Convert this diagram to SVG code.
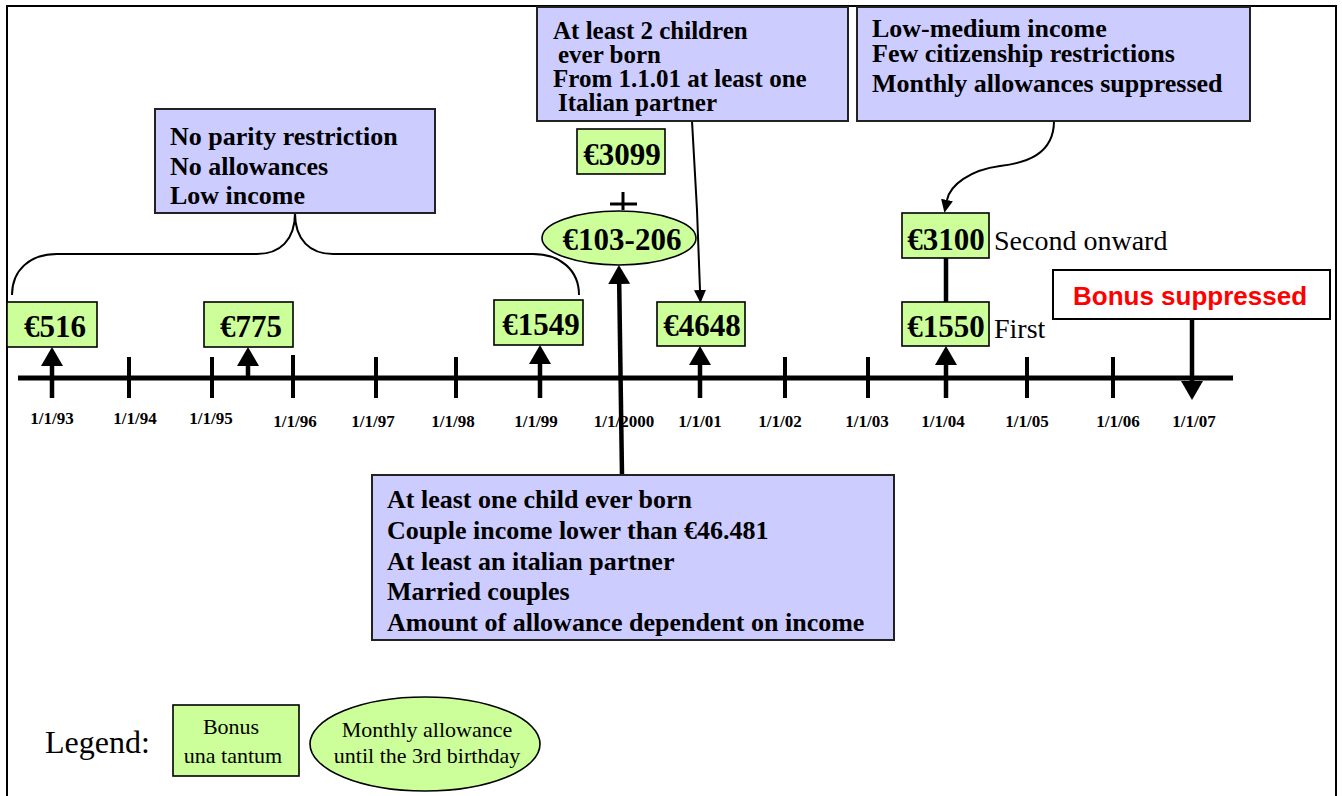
<svg xmlns="http://www.w3.org/2000/svg" width="1342" height="796" viewBox="0 0 1342 796">
<style>
.frame{fill:none;stroke:#000;stroke-width:2}
.blue{fill:#CCCCFF;stroke:#222;stroke-width:2}
.green{fill:#CCFF99;stroke:#000;stroke-width:1.6}
.bt{font-family:"Liberation Serif","Times New Roman",serif;font-weight:bold;font-size:26px;fill:#000}
.bt2{font-family:"Liberation Serif","Times New Roman",serif;font-weight:bold;font-size:25px;fill:#000}
.eu{font-family:"Liberation Serif","Times New Roman",serif;font-weight:bold;font-size:31px;fill:#000;text-anchor:middle}
.dt{font-family:"Liberation Serif","Times New Roman",serif;font-weight:bold;font-size:17px;fill:#000;text-anchor:middle}
.rt{font-family:"Liberation Serif","Times New Roman",serif;font-size:28px;fill:#000}
.lg{font-family:"Liberation Serif","Times New Roman",serif;font-size:22px;fill:#000;text-anchor:middle}
.thick{stroke:#000;stroke-width:4.5;fill:none}
.thin{stroke:#000;stroke-width:2;fill:none}
.tick{stroke:#000;stroke-width:4}
</style>
<defs>
<marker id="ah" markerUnits="userSpaceOnUse" markerWidth="20" markerHeight="22" refX="0" refY="11" orient="auto" viewBox="0 0 20 22"><path d="M0,0 L19,11 L0,22 z" fill="#000"/></marker>
<marker id="ahs" markerUnits="userSpaceOnUse" markerWidth="13" markerHeight="12" refX="0" refY="6" orient="auto" viewBox="0 0 13 12"><path d="M0,0 L13,6 L0,12 z" fill="#000"/></marker>
</defs>
<rect width="1342" height="796" fill="#fff"/>
<path class="frame" d="M7,796 L7,6 L1336,6 L1336,796"/>

<g id="timeline">
<line x1="18" y1="378" x2="1233" y2="378" stroke="#000" stroke-width="5"/>
<line class="tick" x1="129" y1="357" x2="129" y2="398"/>
<line class="tick" x1="212" y1="357" x2="212" y2="398"/>
<line class="tick" x1="293" y1="355" x2="293" y2="398"/>
<line class="tick" x1="376" y1="357" x2="376" y2="398"/>
<line class="tick" x1="456" y1="357" x2="456" y2="398"/>
<line class="tick" x1="785" y1="357" x2="785" y2="398"/>
<line class="tick" x1="868" y1="357" x2="868" y2="398"/>
<line class="tick" x1="1027" y1="357" x2="1027" y2="398"/>
<line class="tick" x1="1113" y1="357" x2="1113" y2="398"/>
<text class="dt" x="52" y="424">1/1/93</text>
<text class="dt" x="135" y="424">1/1/94</text>
<text class="dt" x="211" y="424">1/1/95</text>
<text class="dt" x="295" y="427">1/1/96</text>
<text class="dt" x="373" y="427">1/1/97</text>
<text class="dt" x="453" y="427">1/1/98</text>
<text class="dt" x="536" y="427">1/1/99</text>
<text class="dt" x="624" y="427">1/1/2000</text>
<text class="dt" x="700" y="427">1/1/01</text>
<text class="dt" x="780" y="427">1/1/02</text>
<text class="dt" x="867" y="427">1/1/03</text>
<text class="dt" x="943" y="427">1/1/04</text>
<text class="dt" x="1027" y="427">1/1/05</text>
<text class="dt" x="1118" y="427">1/1/06</text>
<text class="dt" x="1194" y="427">1/1/07</text>
</g>

<g id="connectors">
<path class="thin" stroke-width="1.6" d="M12,295 C12,270 30,254 57,254 L257,254 C280,254 295,240 295,213 C295,240 310,254 333,254 L533,254 C560,254 579,270 579,295"/>
<line class="thick" x1="52" y1="398" x2="52" y2="366" marker-end="url(#ah)"/>
<line class="thick" x1="248" y1="378" x2="248" y2="366" marker-end="url(#ah)"/>
<line class="thick" x1="540" y1="398" x2="540" y2="364" marker-end="url(#ah)"/>
<line class="thick" x1="622" y1="475" x2="619.2" y2="284" marker-end="url(#ah)"/>
<line class="thick" x1="700" y1="398" x2="700" y2="365" marker-end="url(#ah)"/>
<line class="thick" x1="946" y1="398" x2="946" y2="365" marker-end="url(#ah)"/>
<line class="thick" x1="1192" y1="319" x2="1192" y2="381" marker-end="url(#ah)"/>
<line class="thick" x1="946" y1="258" x2="946" y2="302"/>
<polyline class="thin" points="692,121 697,210 700,290" marker-end="url(#ahs)"/>
<path class="thin" stroke-width="2.5" d="M1054,121 C1054,155 1025,163 1000,166 C970,170 950,185 947,200" marker-end="url(#ahs)"/>
<path stroke="#000" stroke-width="3" d="M610,204 L637,204 M623,192 L623,210"/>
</g>

<g id="box-early">
<rect class="blue" x="155" y="109" width="280" height="104"/>
<text class="bt" x="170" y="145">No parity restriction</text>
<text class="bt" x="170" y="175">No allowances</text>
<text class="bt" x="170" y="204">Low income</text>
</g>

<g id="box-2000">
<rect class="blue" x="372" y="475" width="522" height="165"/>
<text class="bt" x="387" y="508">At least one child ever born</text>
<text class="bt" x="387" y="539">Couple income lower than €46.481</text>
<text class="bt" x="387" y="570">At least an italian partner</text>
<text class="bt" x="387" y="600">Married couples</text>
<text class="bt" x="387" y="631">Amount of allowance dependent  on income</text>
</g>

<g id="box-2001">
<rect class="blue" x="537" y="7" width="311" height="114"/>
<text class="bt2" x="553" y="39">At least 2 children</text>
<text class="bt2" x="558" y="63">ever born</text>
<text class="bt2" x="553" y="87">From 1.1.01 at least one</text>
<text class="bt2" x="558" y="111">Italian partner</text>
</g>

<g id="box-2004">
<rect class="blue" x="857" y="7" width="393" height="114"/>
<text class="bt" x="872" y="37">Low-medium income</text>
<text class="bt" x="872" y="62">Few citizenship restrictions</text>
<text class="bt" x="872" y="92">Monthly allowances suppressed</text>
</g>

<g id="b516"><rect class="green" x="7" y="302" width="90" height="45"/><text class="eu" x="55" y="337">€516</text></g>
<g id="b775"><rect class="green" x="204" y="302" width="89" height="45"/><text class="eu" x="251" y="337">€775</text></g>
<g id="b1549"><rect class="green" x="494" y="300" width="89" height="45"/><text class="eu" x="541" y="335">€1549</text></g>
<g id="b3099"><rect class="green" x="577" y="129" width="88" height="45"/><text class="eu" x="622" y="165">€3099</text></g>
<g id="a103"><ellipse class="green" cx="619" cy="238" rx="77" ry="27"/><text class="eu" x="622" y="250">€103-206</text></g>
<g id="b4648"><rect class="green" x="657" y="302" width="88" height="44"/><text class="eu" x="702" y="336">€4648</text></g>
<g id="b3100"><rect class="green" x="902" y="213" width="87" height="45"/><text class="eu" x="946" y="250">€3100</text></g>
<g id="b1550"><rect class="green" x="902" y="302" width="87" height="44"/><text class="eu" x="946" y="337">€1550</text></g>
<g id="lbl-second"><text class="rt" x="994" y="250">Second onward</text></g>
<g id="lbl-first"><text class="rt" x="994" y="338">First</text></g>

<g id="suppressed">
<rect x="1053" y="270" width="277" height="49" fill="#fff" stroke="#000" stroke-width="2"/>
<text x="1190" y="305" text-anchor="middle" font-family="'Liberation Sans',Arial,sans-serif" font-weight="bold" font-size="26" fill="#FF0000">Bonus suppressed</text>
</g>

<g id="legend">
<text x="45" y="753" font-family="'Liberation Serif','Times New Roman',serif" font-size="32" fill="#000">Legend:</text>
<rect class="green" x="173" y="705" width="126" height="71"/>
<text class="lg" x="231" y="734">Bonus</text>
<text class="lg" x="233" y="763">una tantum</text>
<ellipse class="green" cx="425" cy="744" rx="115" ry="47"/>
<text class="lg" x="427" y="737">Monthly allowance</text>
<text class="lg" x="427" y="763">until the 3rd birthday</text>
</g>
</svg>
